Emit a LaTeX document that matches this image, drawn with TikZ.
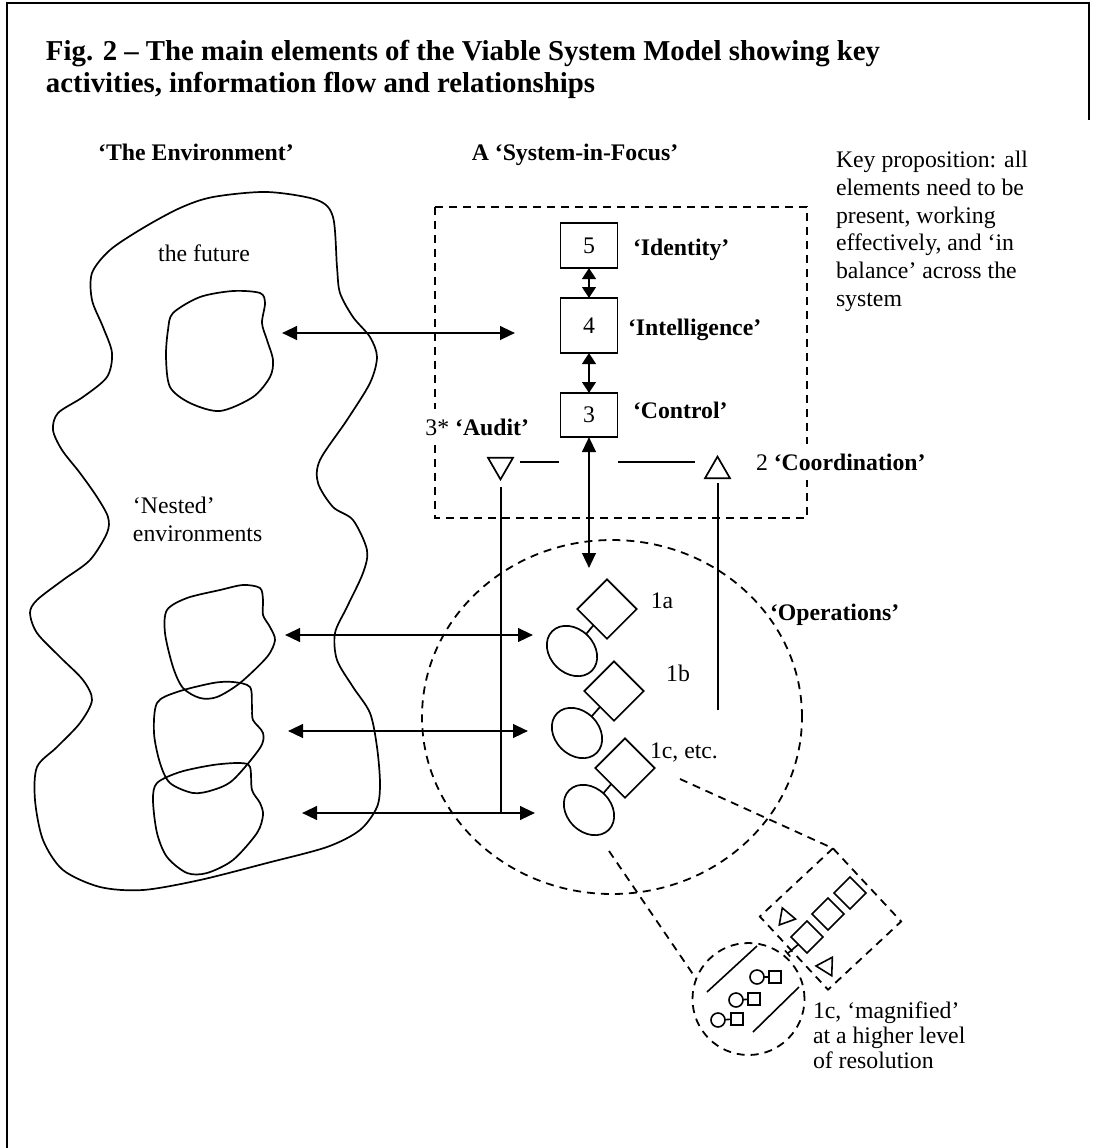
\documentclass[tikz,border=0pt]{standalone}
\usepackage{fontspec}
\setmainfont{Liberation Serif}
\usetikzlibrary{arrows.meta,shapes.geometric,calc}

\begin{document}
\begin{tikzpicture}[x=0.5pt,y=-0.5pt,
  every node/.style={inner sep=0pt, outer sep=0pt},
  body/.style={font=\fontsize{11.875}{13.9}\selectfont},
  bodyb/.style={font=\fontsize{11.875}{13.9}\selectfont\bfseries},
  ttl/.style={font=\fontsize{14.4}{16}\selectfont\bfseries},
  ln/.style={line width=0.85pt},
  thinln/.style={line width=0.8pt},
  dsh/.style={line width=0.9pt, dash pattern=on 4pt off 3pt},
  tipA/.tip={Triangle[length=7.5pt,width=6.8pt]},
  tipB/.tip={Triangle[length=5.5pt,width=6.8pt]},
  dbl/.style={line width=1.2pt, tipA-tipA},
  dblshort/.style={line width=1.2pt, tipB-tipB},
  sysbox/.style={draw, ln, rectangle, minimum width=28.5pt, body},
  unitsq/.style={draw, ln, rectangle, rotate=45, minimum size=21pt},
  unitel/.style={draw, ln, ellipse, minimum width=28pt, minimum height=22pt, rotate=-45},
  tri/.style={draw, ln, regular polygon, regular polygon sides=3, minimum size=14.4pt},
  minisq/.style={draw, thinln, rectangle, rotate=45, minimum size=11.3pt},
  minitri/.style={draw, thinln, regular polygon, regular polygon sides=3},
  dotc/.style={draw, thinln, circle, minimum size=7pt},
  dots/.style={draw, thinln, rectangle, minimum size=6pt},
  masklbl/.style={fill=white, inner xsep=1.5pt, inner ysep=5pt}
]
\useasboundingbox (0,0) rectangle (1096,1148);

% frame
\draw[line width=1pt] (7,1148) -- (7,3) -- (1089,3) -- (1089,120);

% title
\node[ttl, align=left, anchor=north west] (title) at (46,40)
  {Fig. 2 – The main elements of the Viable System Model showing key\\activities, information flow and relationships};

% headings
\node[bodyb, anchor=base] (envhead) at (196,160) {‘The Environment’};
\node[bodyb, anchor=base] (sifhead) at (575,160) {A ‘System-in-Focus’};
\node[body, align=left, anchor=north west] (keyprop) at (836,151)
  {Key proposition: all\\elements need to be\\present, working\\effectively, and ‘in\\balance’ across the\\system};

% the environment
\draw[ln] plot[smooth cycle] coordinates {
  (143,228) (180,208) (213,197) (267,192) (317,200) (333,217) (337,267)
  (340,293) (353,317) (370,337) (377,357) (370,383) (347,420) (320,460)
  (318,483) (333,507) (353,520) (367,550) (363,573) (347,607) (335,633)
  (337,660) (353,687) (370,713) (377,747) (380,783) (377,807) (360,830)
  (327,847) (267,863) (200,880) (143,890) (100,887) (63,870) (43,840)
  (35,800) (37,767) (57,747) (80,723) (92,700) (83,680) (60,657) (37,633)
  (30,613) (37,600) (63,580) (90,560) (107,533) (108,517) (97,497) (80,473)
  (62,450) (53,430) (58,413) (83,397) (107,377) (112,353) (103,327)
  (92,300) (92,273) (110,250)};
% the future
\draw[ln] plot[smooth cycle] coordinates {
  (173,313) (200,297) (233,291) (260,293) (265,303) (262,323) (267,340)
  (273,360) (270,377) (253,397) (220,411) (190,403) (170,387) (166,357) (168,330)};
% nested environments
\draw[ln] plot[smooth cycle] coordinates {
  (167,610) (187,598) (220,590) (243,585) (260,588) (263,600) (263,615)
  (270,627) (275,640) (267,657) (240,683) (217,697) (200,698) (183,688)
  (173,667) (165,633)};
\draw[ln] plot[smooth cycle] coordinates {
  (157,703) (177,692) (213,683) (233,682) (250,687) (252,707) (253,720)
  (263,733) (260,748) (233,780) (213,790) (193,793) (170,783) (160,763) (154,733)};
\draw[ln] plot[smooth cycle] coordinates {
  (157,783) (180,772) (213,765) (240,763) (250,767) (252,790) (260,803)
  (263,815) (257,833) (233,860) (207,873) (187,873) (167,857) (157,833) (153,800)};

\node[body, anchor=base] (futlbl) at (204,261) {the future};
\node[body, align=left, anchor=north west] (nestlbl) at (133,497) {‘Nested’\\environments};

% system in focus
\draw[dsh] (435,207) rectangle (807,518);
\node[sysbox, minimum height=22.5pt] (s5) at (589,245.5) {5};
\node[sysbox, minimum height=27.5pt] (s4) at (589,325.5) {4};
\node[sysbox, minimum height=22pt] (s3) at (589,415) {3};
\draw[dblshort] (s5.south) -- (s4.north);
\draw[dblshort] (s4.south) -- (s3.north);
\node[bodyb, anchor=base west] (idlbl) at (633,255) {‘Identity’};
\node[bodyb, anchor=base west] (intlbl) at (628,335) {‘Intelligence’};
\node[bodyb, anchor=base west] (ctllbl) at (633,418) {‘Control’};

\node[tri, rotate=180] (aud) at (500.5,465) {};
\node[tri] (crd) at (717.5,471) {};
\node[body, masklbl, anchor=base east] (audlbl) at (532,435) {3* \textbf{‘Audit’}};
\node[body, masklbl, anchor=base west] (crdlbl) at (753,470) {2 \textbf{‘Coordination’}};
\coordinate (audR) at (520,462);
\coordinate (axL) at (559,462);
\coordinate (axR) at (618,462);
\coordinate (crdL) at (695,462);
\draw[ln] (audR) -- (axL);
\draw[ln] (axR) -- (crdL);

% control channel
\coordinate (opsTop) at (589,568);
\draw[dbl] (s3.south) -- (opsTop);

% operations
\node[draw, dsh, ellipse, minimum width=190pt, minimum height=177pt] (ops) at (612,717) {};
\node[bodyb, anchor=base west] (opslbl) at (770,620) {‘Operations’};

\node[unitsq] (d1a) at (607,609) {};
\node[unitel] (e1a) at (572,651) {};
\node[unitsq] (d1b) at (614,691) {};
\node[unitel] (e1b) at (577,733) {};
\node[unitsq] (d1c) at (625,768) {};
\node[unitel] (e1c) at (589,810) {};
\draw[ln] (e1a) -- (d1a);
\draw[ln] (e1b) -- (d1b);
\draw[ln] (e1c) -- (d1c);
\node[body, anchor=base] (l1a) at (662,608) {1a};
\node[body, anchor=base] (l1b) at (678,681) {1b};
\node[body, anchor=base west] (l1c) at (650,758) {1c, etc.};

% audit and coordination channels
\coordinate (audTop) at (501,487);
\coordinate (audBot) at (501,813);
\draw[ln] (audTop) -- (audBot);
\coordinate (crdBot) at (718,483);
\coordinate (crdTop) at (718,710);
\draw[ln] (crdBot) -- (crdTop);

% environment exchanges
\coordinate (futL) at (282,333);
\coordinate (futR) at (515,333);
\draw[dbl] (futL) -- (futR);
\coordinate (n1L) at (285,635);
\coordinate (n1R) at (533,635);
\draw[dbl] (n1L) -- (n1R);
\coordinate (n2L) at (288,731);
\coordinate (n2R) at (528,731);
\draw[dbl] (n2L) -- (n2R);
\coordinate (n3L) at (302,813);
\coordinate (n3R) at (535,813);
\draw[dbl] (n3L) -- (n3R);

% magnified view of 1c
\node[draw, dsh, circle, minimum size=56pt] (mag) at (748.5,999) {};
\node[draw, dsh, rectangle, rotate=43, minimum size=50pt] (magrect) at (830.5,919) {};
\coordinate (zoomA) at (680,779);
\coordinate (zoomB) at (609,851);
\draw[dsh] (zoomA) -- (magrect.north east);
\draw[dsh] (zoomB) -- (mag.159);

\node[minisq] (q1) at (807,937) {};
\node[minisq] (q2) at (828,914) {};
\node[minisq] (q3) at (850,893) {};
\node[minitri, minimum size=10pt, rotate=20] (mt1) at (785.7,917.3) {};
\node[minitri, minimum size=10.7pt, rotate=-32] (mt2) at (826.7,966.3) {};
\coordinate (qT) at (787,954);
\draw[thinln, -{Bar[width=4pt]}] (q1) -- (qT);

\coordinate (ma1) at (707,992);
\coordinate (mb1) at (757,946);
\coordinate (ma2) at (753,1032);
\coordinate (mb2) at (799,987);
\draw[thinln] (ma1) -- (mb1);
\draw[thinln] (ma2) -- (mb2);
\node[dotc] (pc1) at (757,977) {};
\node[dots] (ps1) at (775,977) {};
\node[dotc] (pc2) at (736,1000) {};
\node[dots] (ps2) at (754,999) {};
\node[dotc] (pc3) at (718,1020) {};
\node[dots] (ps3) at (737,1019) {};
\draw[thinln] (pc1) -- (ps1);
\draw[thinln] (pc2) -- (ps2);
\draw[thinln] (pc3) -- (ps3);

\node[body, align=left, anchor=north west, font=\fontsize{11.875}{12.4}\selectfont] (maglbl) at (813,1002)
  {1c, ‘magnified’\\at a higher level\\of resolution};
\end{tikzpicture}
\end{document}
